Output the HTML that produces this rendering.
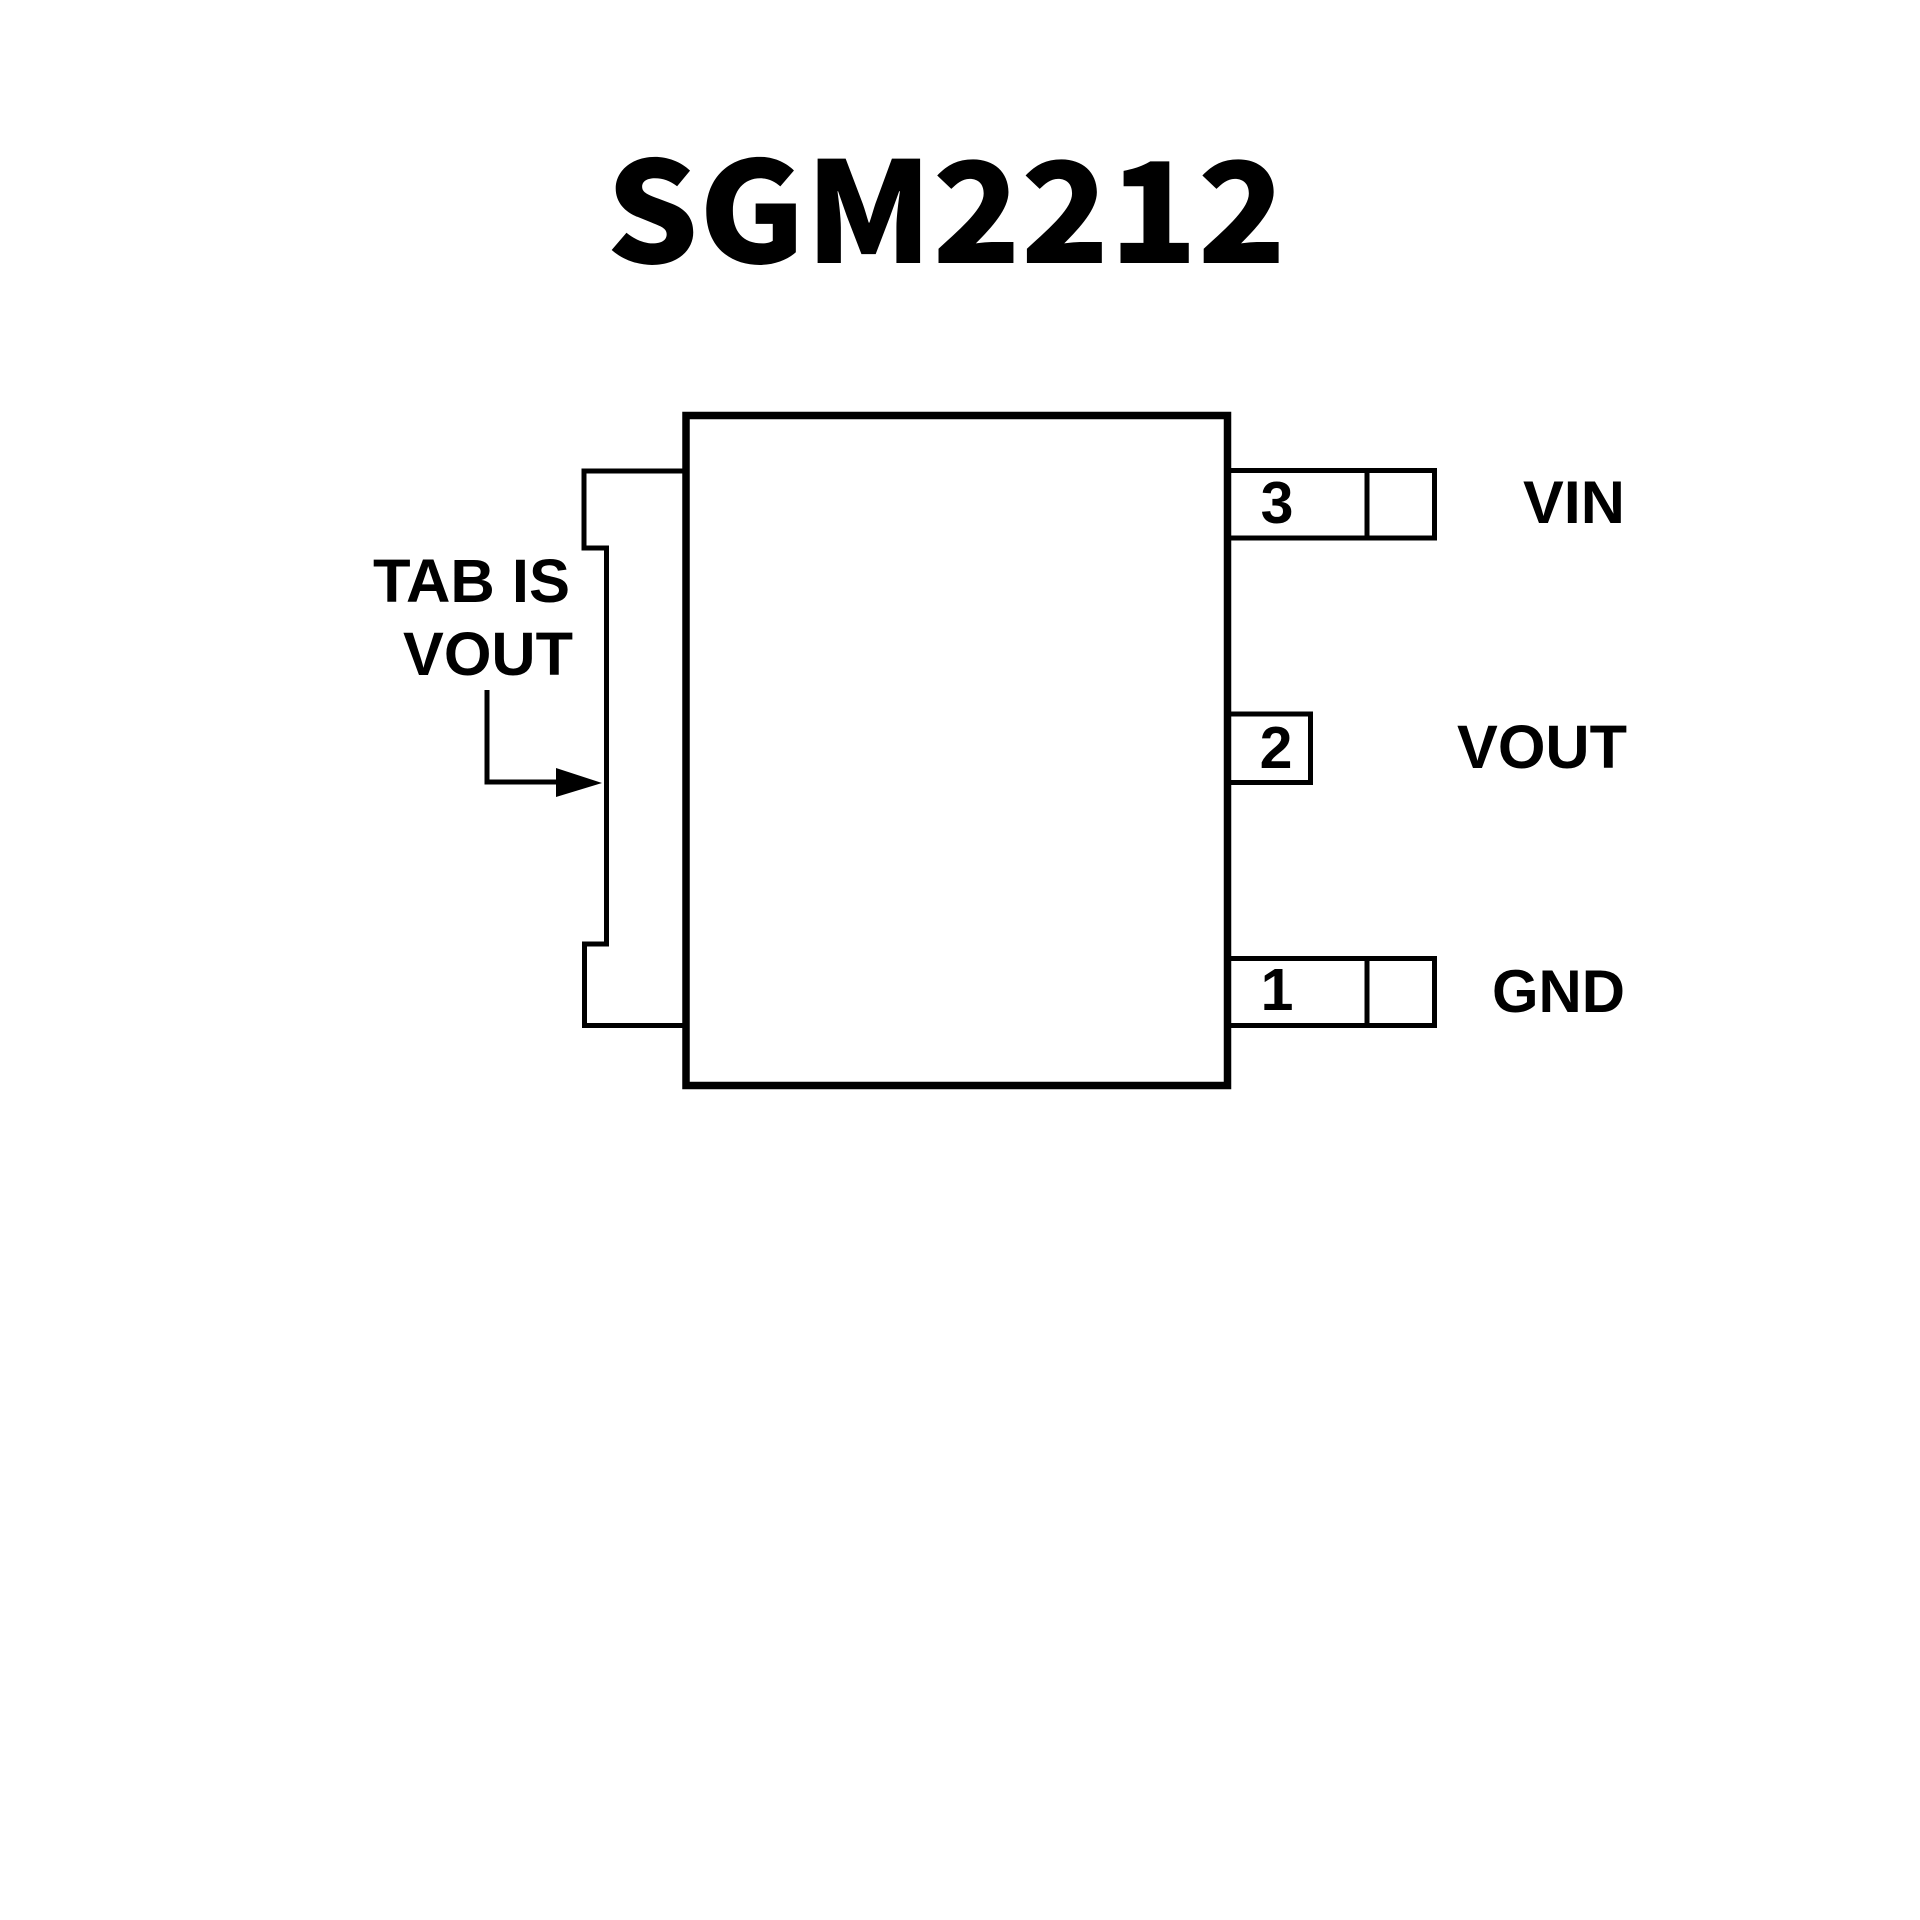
<!DOCTYPE html>
<html>
<head>
<meta charset="utf-8">
<style>
  html, body { margin: 0; padding: 0; background: #ffffff; }
  body { width: 1920px; height: 1920px; overflow: hidden; }
  svg { display: block; }
  .lbl { font-family: "Liberation Sans", Arial, sans-serif; font-weight: bold; fill: #000; }
  .ttl { font-family: "Noto Sans CJK SC", "Liberation Sans", sans-serif; font-weight: 900; fill: #000; }
</style>
</head>
<body>
<svg width="1920" height="1920" viewBox="0 0 1920 1920" xmlns="http://www.w3.org/2000/svg">
  <rect x="0" y="0" width="1920" height="1920" fill="#fff"/>

  <!-- Title -->
  <text class="ttl" x="606" y="263" font-size="140" textLength="680" lengthAdjust="spacingAndGlyphs">SGM2212</text>

  <!-- Main body -->
  <rect x="686" y="415.5" width="541.5" height="670" fill="none" stroke="#000" stroke-width="7.5"/>

  <!-- Tab outline -->
  <path d="M684,471 H584 V548 H606.5 V944 H584.5 V1025.5 H684" fill="none" stroke="#000" stroke-width="5" stroke-linejoin="miter"/>

  <!-- Arrow -->
  <path d="M487,690 V782 H562" fill="none" stroke="#000" stroke-width="5" stroke-linejoin="miter"/>
  <polygon points="556,768 602,783 556,797" fill="#000"/>

  <!-- Pin 3 -->
  <path d="M1230,470.5 H1434.5 V538 H1230" fill="none" stroke="#000" stroke-width="5"/>
  <line x1="1367" y1="470.5" x2="1367" y2="538" stroke="#000" stroke-width="5"/>

  <!-- Pin 2 -->
  <path d="M1230,714 H1310.5 V782.5 H1230" fill="none" stroke="#000" stroke-width="5"/>

  <!-- Pin 1 -->
  <path d="M1230,958.5 H1434.5 V1025.5 H1230" fill="none" stroke="#000" stroke-width="5"/>
  <line x1="1367" y1="958.5" x2="1367" y2="1025.5" stroke="#000" stroke-width="5"/>

  <!-- Pin numbers -->
  <text class="lbl" x="1277" y="523" font-size="59" text-anchor="middle">3</text>
  <text class="lbl" x="1276" y="768" font-size="59" text-anchor="middle">2</text>
  <text class="lbl" x="1277" y="1010" font-size="59" text-anchor="middle">1</text>

  <!-- Pin names -->
  <text class="lbl" x="1523" y="523" font-size="60" textLength="102" lengthAdjust="spacingAndGlyphs">VIN</text>
  <text class="lbl" x="1457" y="768" font-size="61" textLength="170" lengthAdjust="spacingAndGlyphs">VOUT</text>
  <text class="lbl" x="1492" y="1012" font-size="60" textLength="133" lengthAdjust="spacingAndGlyphs">GND</text>

  <!-- Tab label -->
  <text class="lbl" x="373" y="602" font-size="61" textLength="197" lengthAdjust="spacingAndGlyphs">TAB IS</text>
  <text class="lbl" x="403" y="675" font-size="61" textLength="170" lengthAdjust="spacingAndGlyphs">VOUT</text>
</svg>
</body>
</html>
